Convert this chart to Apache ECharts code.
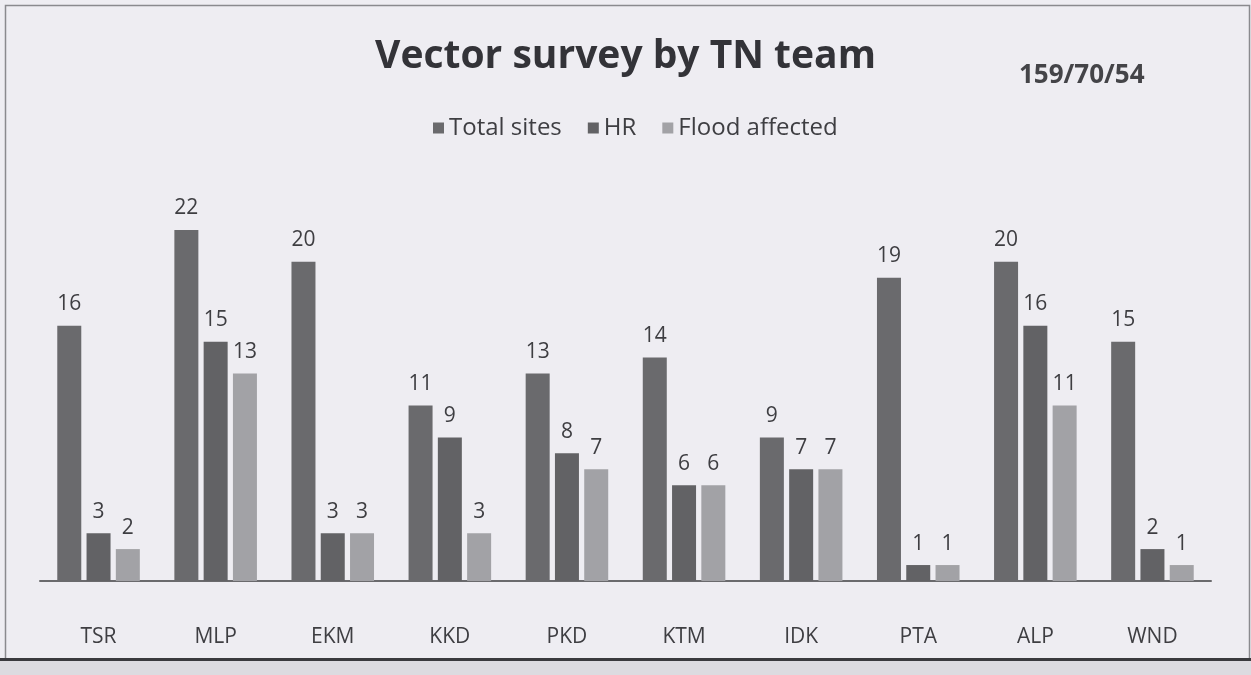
<!DOCTYPE html>
<html><head><meta charset="utf-8">
<script src="https://cdn.jsdelivr.net/npm/echarts@6/dist/echarts.min.js"></script>
<style>html,body{margin:0;padding:0;background:#eeedf2;}#c{width:1251px;height:675px;}</style>
</head><body><div id="c"></div>
<script>
const categories = ['TSR','MLP','EKM','KKD','PKD','KTM','IDK','PTA','ALP','WND'];
const totalSites = [16,22,20,11,13,14,9,19,20,15];
const hr = [3,15,3,9,8,6,7,1,16,2];
const floodAffected = [2,13,3,3,7,6,7,1,11,1];
const seriesNames = ['Total sites','HR','Flood affected'];
const colors = ['#6a6a6d','#626265','#a2a2a6'];

const chart = echarts.init(document.getElementById('c'));
const lbl = {show:true, position:'top', distance:11, color:'#3e3e42', fontSize:21, fontFamily:'Open Sans'};
chart.setOption({
  backgroundColor:'#eeedf2',
  animation:false,
  title:[
    {text:'Vector survey by TN team', left:'center', top:32, textStyle:{fontSize:39, fontWeight:'bold', color:'#333338', fontFamily:'Open Sans'}},
    {text:'159/70/54', left:1014, top:58, textStyle:{fontSize:26, fontWeight:'bold', color:'#444448', fontFamily:'Open Sans'}}
  ],
  legend:{data:seriesNames, top:111, left:428, itemWidth:11, itemHeight:11, itemGap:26, icon:'rect',
    textStyle:{fontSize:24, color:'#3e3e42', fontFamily:'Open Sans'}},
  grid:{left:40, right:40, top:198, bottom:94},
  xAxis:{type:'category', data:categories, axisTick:{show:false},
    axisLine:{lineStyle:{color:'#6a6a6d', width:2}},
    axisLabel:{margin:46, fontSize:21, color:'#3e3e42', fontFamily:'Open Sans'}},
  yAxis:{type:'value', min:0, max:24, show:false, splitLine:{show:false}},
  series:[
    {name:seriesNames[0], type:'bar', data:totalSites, barWidth:24, barGap:'22%', itemStyle:{color:colors[0]}, label:lbl},
    {name:seriesNames[1], type:'bar', data:hr, barWidth:24, barGap:'22%', itemStyle:{color:colors[1]}, label:lbl},
    {name:seriesNames[2], type:'bar', data:floodAffected, barWidth:24, barGap:'22%', itemStyle:{color:colors[2]}, label:lbl}
  ],
  graphic:[
    {type:'rect', left:3, top:3, shape:{width:1244, height:656}, style:{fill:null, stroke:'#8a8a8e', lineWidth:1.5}, silent:true},
    {type:'rect', left:0, top:660, shape:{width:1251, height:15}, style:{fill:'#dcdbe0'}, silent:true},
    {type:'rect', left:0, top:658, shape:{width:1251, height:3}, style:{fill:'#3a3a3e'}, silent:true}
  ]
});
</script></body></html>
